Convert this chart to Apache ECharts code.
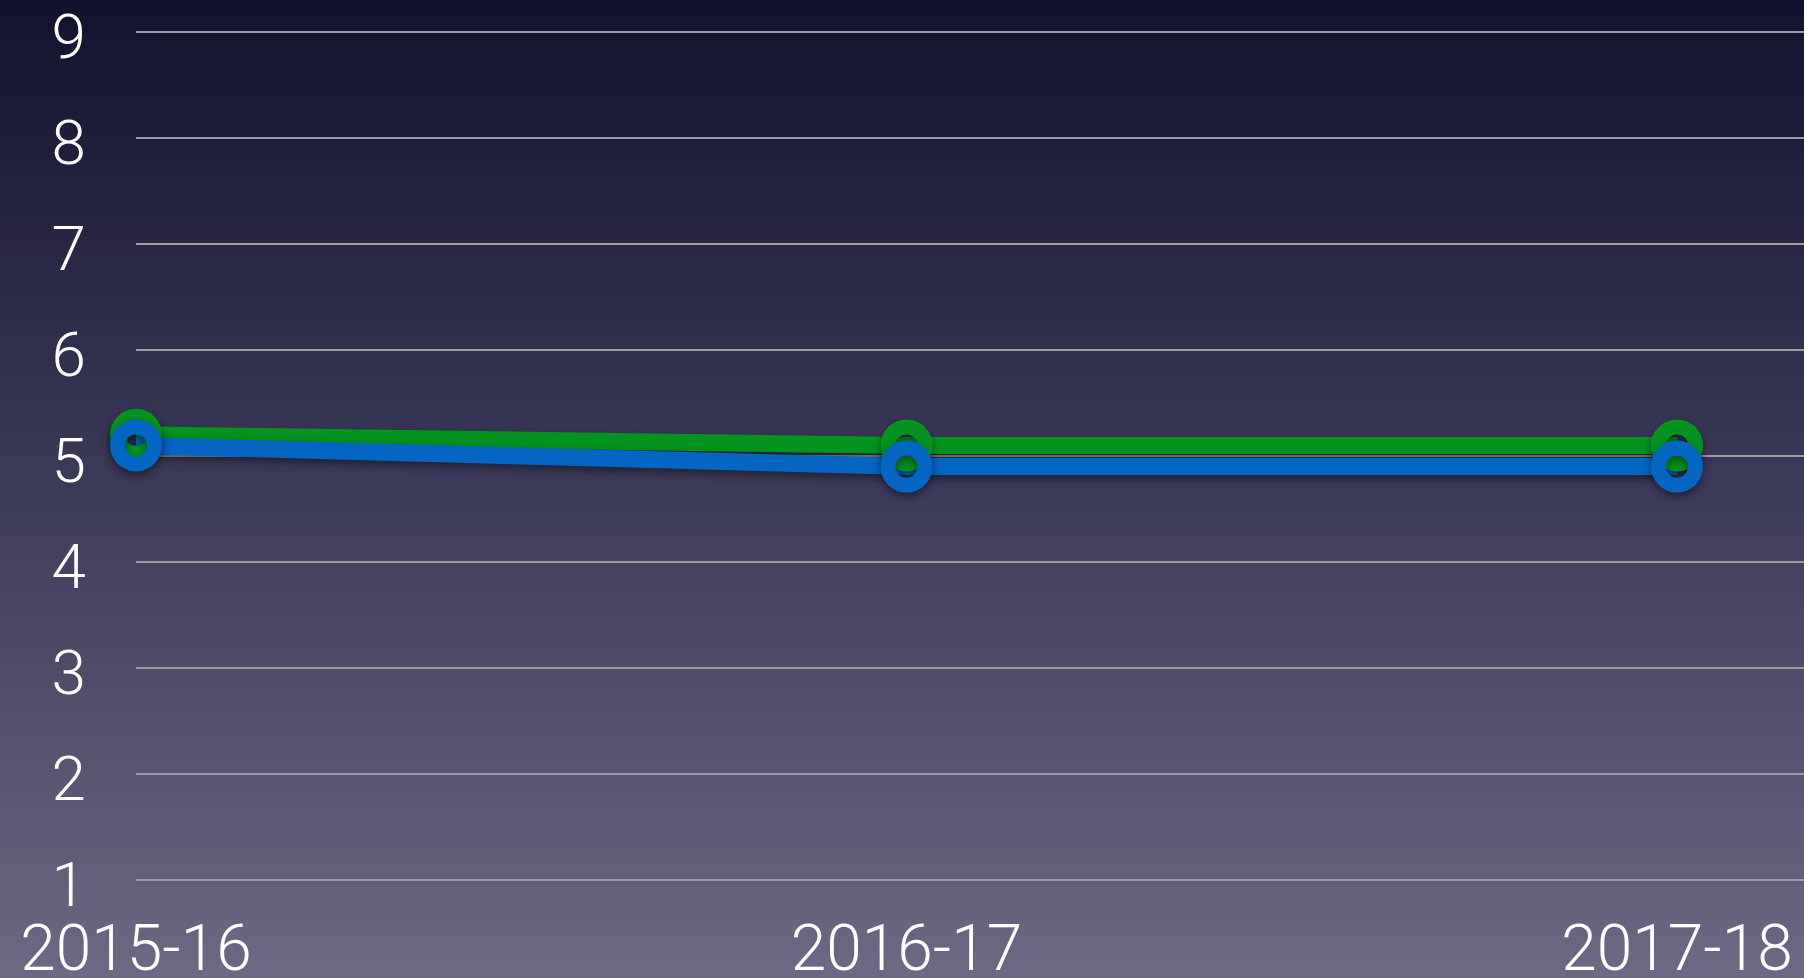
<!DOCTYPE html>
<html>
<head>
<meta charset="utf-8">
<script src="https://cdn.jsdelivr.net/npm/echarts@6/dist/echarts.min.js"></script>
<style>
  html, body { margin: 0; padding: 0; }
  #chart { width: 1804px; height: 978px; }
</style>
</head>
<body>
<div id="chart"></div>
<script>
const categories = ['2015-16', '2016-17', '2017-18']
const greenValues = [5.2, 5.1, 5.1]
const blueValues = [5.1, 4.9, 4.9]
const yTicks = [1, 2, 3, 4, 5, 6, 7, 8, 9]

const chart = echarts.init(document.getElementById('chart'))

// x is a value axis so the grid lines can run past the last category
const xMax = (1804 - 136) / 770.5

const toPoints = vals => vals.map((v, i) => [i, v])

const lineSeries = (name, color, vals) => ({
  name,
  type: 'line',
  data: toPoints(vals),
  symbol: 'circle',
  symbolSize: 37,
  lineStyle: {
    color,
    width: 17,
    shadowColor: 'rgba(0,0,0,0.45)',
    shadowBlur: 8,
    shadowOffsetY: 4
  },
  itemStyle: {
    color: 'rgba(0,0,0,0)',
    borderColor: color,
    borderWidth: 15,
    shadowColor: 'rgba(0,0,0,0.45)',
    shadowBlur: 8,
    shadowOffsetY: 4
  },
  emphasis: { disabled: true },
  animation: false
})

const labelFont = {
  color: '#ffffff',
  fontFamily: 'Roboto',
  fontWeight: 300
}

const option = {
  backgroundColor: new echarts.graphic.LinearGradient(0, 0, 0, 1, [
    { offset: 0, color: '#12112e' },
    { offset: 0.5, color: '#3d3b5a' },
    { offset: 1, color: '#6b6983' }
  ]),
  grid: {
    left: 136,
    right: 0,
    top: 32,
    bottom: 98,
    containLabel: false,
    outerBoundsMode: 'none'
  },
  xAxis: {
    type: 'value',
    min: 0,
    max: xMax,
    interval: 1,
    axisLine: { show: false },
    axisTick: { show: false },
    splitLine: { show: false },
    axisLabel: {
      ...labelFont,
      fontSize: 64,
      margin: 42,
      formatter: v => (Number.isInteger(v) && categories[v] !== undefined ? categories[v] : '')
    }
  },
  yAxis: {
    type: 'value',
    min: yTicks[0],
    max: yTicks[yTicks.length - 1],
    interval: 1,
    axisLine: { show: false },
    axisTick: { show: false },
    splitLine: { lineStyle: { color: '#9c9ca2', width: 2 } },
    axisLabel: {
      ...labelFont,
      fontSize: 62,
      margin: 50,
      formatter: v => '{t|' + v + '}',
      rich: {
        t: { ...labelFont, fontSize: 62, padding: [20, 0, 0, 0] }
      }
    }
  },
  series: [
    lineSeries('green', '#05931f', greenValues),
    lineSeries('blue', '#0565c3', blueValues)
  ]
}

chart.setOption(option)
</script>
</body>
</html>
